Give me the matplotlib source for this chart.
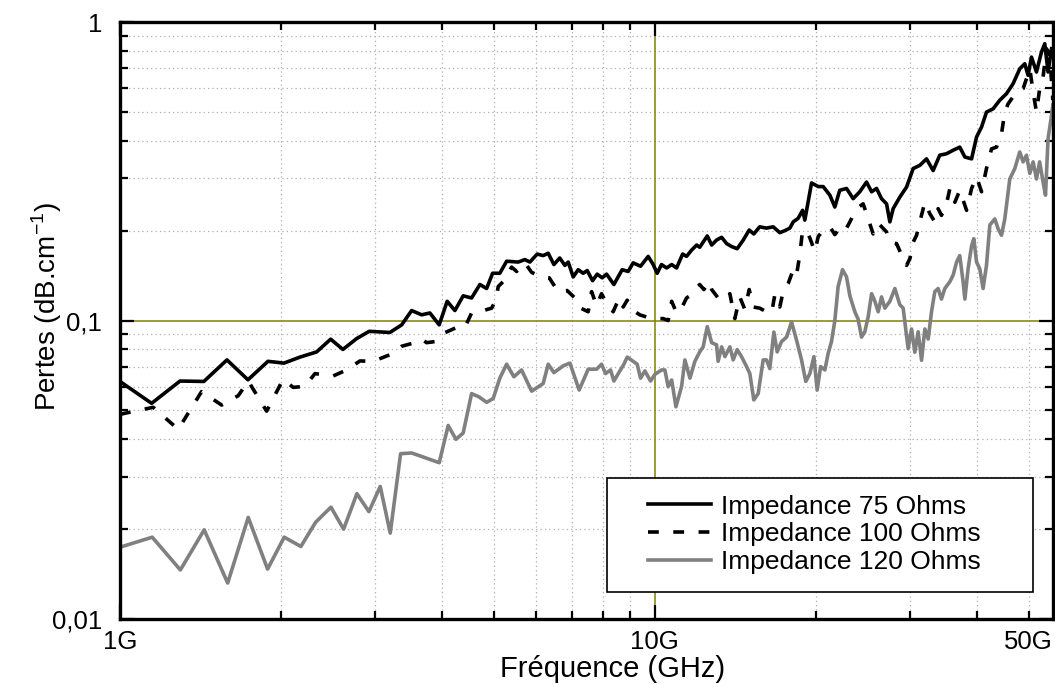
import numpy as np
import matplotlib
matplotlib.use('Agg')
import matplotlib.pyplot as plt
from matplotlib.ticker import FixedLocator, FuncFormatter, NullFormatter
from matplotlib.patches import Rectangle

plt.rcParams['font.family'] = ['Liberation Sans', 'DejaVu Sans']

# données (fréquence en GHz, pertes en dB/cm)
freq_75 = [1.00, 1.146, 1.295, 1.435, 1.585, 1.735, 1.891, 2.026, 2.170, 2.332,
           2.477, 2.611, 2.770, 2.924, 3.197, 3.362, 3.510, 3.664, 3.797, 3.952,
           4.090, 4.228, 4.382, 4.543, 4.709, 4.847, 4.973, 5.13, 5.283, 5.553,
           5.715, 5.839, 6.026, 6.183, 6.318, 6.475, 6.64, 6.789, 6.886, 7.036,
           7.189, 7.345, 7.473, 7.648, 7.801, 7.971, 8.123, 8.382, 8.687, 8.914,
           9.108, 9.403, 9.716, 9.928, 10.10, 10.29, 10.52, 10.75, 10.98, 11.27,
           11.46, 11.71, 11.97, 12.13, 12.53, 12.77, 13.04, 13.33, 13.62, 13.91,
           14.25, 14.63, 15.01, 15.31, 15.70, 16.17, 16.64, 17.12, 17.50, 17.88,
           18.14, 18.53, 18.89, 19.07, 19.63, 20.20, 20.64, 21.24, 21.70, 22.16,
           22.82, 23.48, 24.16, 24.87, 25.42, 25.97, 26.53, 27.11, 27.50, 27.89,
           28.70, 29.55, 30.40, 31.28, 32.20, 33.13, 34.09, 35.09, 36.11, 37.15,
           37.98, 39.09, 39.94, 40.81, 41.68, 42.89, 44.13, 45.42, 46.73, 48.1,
           49.15, 49.85, 50.59, 51.69, 52.81, 53.57, 54.33, 55.15]
loss_75 = [0.0625, 0.0528, 0.0627, 0.0625, 0.0738, 0.0633, 0.073, 0.072, 0.0754, 0.0785,
           0.0866, 0.080, 0.087, 0.092, 0.0912, 0.0967, 0.108, 0.1045, 0.106, 0.0967,
           0.116, 0.108, 0.121, 0.119, 0.132, 0.128, 0.144, 0.144, 0.158, 0.157,
           0.160, 0.157, 0.167, 0.165, 0.168, 0.154, 0.162, 0.153, 0.157, 0.140,
           0.148, 0.144, 0.147, 0.136, 0.143, 0.139, 0.143, 0.132, 0.148, 0.146,
           0.156, 0.152, 0.164, 0.154, 0.144, 0.154, 0.150, 0.154, 0.150, 0.167,
           0.164, 0.172, 0.179, 0.176, 0.192, 0.179, 0.186, 0.190, 0.181, 0.177,
           0.174, 0.186, 0.201, 0.195, 0.206, 0.204, 0.206, 0.197, 0.200, 0.204,
           0.214, 0.220, 0.234, 0.217, 0.289, 0.281, 0.281, 0.263, 0.240, 0.273,
           0.277, 0.256, 0.270, 0.291, 0.270, 0.277, 0.256, 0.246, 0.214, 0.237,
           0.259, 0.280, 0.323, 0.331, 0.348, 0.318, 0.358, 0.362, 0.372, 0.381,
           0.353, 0.348, 0.412, 0.445, 0.499, 0.512, 0.547, 0.575, 0.621, 0.697,
           0.725, 0.663, 0.763, 0.680, 0.793, 0.846, 0.680, 0.814]

freq_100 = [1.00, 1.154, 1.285, 1.421, 1.549, 1.664, 1.737, 1.880, 2.019, 2.108,
            2.217, 2.315, 2.504, 2.653, 2.809, 2.975, 3.242, 3.362, 3.560, 3.664,
            3.744, 3.880, 3.993, 4.260, 4.414, 4.543, 4.695, 4.952, 5.045, 5.095,
            5.205, 5.397, 5.515, 5.715, 5.883, 6.141, 6.346, 6.596, 6.856, 7.088,
            7.189, 7.506, 7.616, 7.781, 7.950, 8.123, 8.357, 8.576, 8.726, 8.877,
            9.047, 9.37, 9.859, 10.07, 10.36, 10.59, 10.75, 10.98, 11.22, 11.46,
            11.79, 11.93, 12.13, 12.35, 12.63, 12.77, 13.13, 13.42, 13.81, 14.11,
            14.41, 14.73, 15.01, 15.27, 15.70, 16.17, 16.53, 16.76, 17.12, 17.37,
            17.75, 18.14, 18.40, 18.66, 18.89, 19.21, 19.49, 19.91, 20.20, 20.64,
            21.24, 21.70, 22.16, 22.65, 23.15, 23.82, 24.51, 24.87, 25.59, 26.15,
            27.11, 27.50, 28.30, 28.92, 29.55, 29.97, 30.40, 30.85, 31.28, 31.97,
            32.66, 33.37, 33.85, 34.34, 35.09, 35.61, 36.38, 37.15, 38.26, 39.09,
            39.94, 40.81, 41.68, 42.60, 43.52, 44.47, 45.10, 45.75, 46.73, 47.44,
            48.80, 50.23, 50.95, 51.69, 52.4, 53.18, 53.96, 54.73, 55.46]
loss_100 = [0.0485, 0.0512, 0.0432, 0.0578, 0.0521, 0.0560, 0.0627, 0.0497, 0.0636, 0.0597,
            0.0602, 0.0664, 0.0652, 0.0683, 0.0732, 0.073, 0.0776, 0.082, 0.0843, 0.0866,
            0.0843, 0.085, 0.090, 0.0948, 0.0948, 0.106, 0.107, 0.110, 0.117, 0.130,
            0.135, 0.151, 0.146, 0.156, 0.145, 0.140, 0.139, 0.125, 0.126, 0.119,
            0.111, 0.107, 0.125, 0.112, 0.123, 0.114, 0.107, 0.119, 0.111, 0.117,
            0.109, 0.1045, 0.1015, 0.1015, 0.1015, 0.100, 0.116, 0.106, 0.110, 0.119,
            0.123, 0.128, 0.132, 0.127, 0.135, 0.127, 0.119, 0.117, 0.123, 0.1015,
            0.120, 0.109, 0.127, 0.111, 0.110, 0.107, 0.106, 0.122, 0.111, 0.125,
            0.133, 0.148, 0.142, 0.166, 0.201, 0.199, 0.189, 0.170, 0.191, 0.201,
            0.206, 0.194, 0.204, 0.199, 0.214, 0.237, 0.246, 0.228, 0.195, 0.212,
            0.198, 0.183, 0.181, 0.166, 0.153, 0.161, 0.183, 0.193, 0.214, 0.249,
            0.228, 0.214, 0.237, 0.225, 0.246, 0.277, 0.249, 0.273, 0.234, 0.277,
            0.303, 0.270, 0.323, 0.376, 0.381, 0.423, 0.499, 0.532, 0.561, 0.583,
            0.598, 0.697, 0.583, 0.499, 0.598, 0.654, 0.814, 0.774, 0.548]

freq_120 = [1.00, 1.149, 1.297, 1.437, 1.590, 1.737, 1.888, 2.028, 2.179, 2.322,
            2.480, 2.619, 2.773, 2.920, 3.066, 3.201, 3.347, 3.510, 3.952, 4.108,
            4.247, 4.382, 4.543, 4.689, 4.847, 4.986, 5.13, 5.283, 5.451, 5.634,
            5.883, 6.183, 6.318, 6.475, 6.740, 6.937, 7.219, 7.506, 7.781, 7.950,
            8.088, 8.264, 8.382, 8.576, 8.752, 8.877, 9.108, 9.267, 9.403, 9.579,
            9.817, 10.0, 10.29, 10.44, 10.59, 10.75, 10.95, 11.22, 11.38, 11.63,
            11.88, 12.13, 12.31, 12.53, 12.77, 13.04, 13.13, 13.33, 13.52, 13.81,
            14.01, 14.25, 14.52, 14.84, 15.05, 15.31, 15.60, 15.94, 16.17, 16.40,
            16.69, 16.93, 17.25, 17.63, 18.01, 18.40, 18.80, 19.15, 19.49, 19.83,
            20.11, 20.41, 20.79, 21.08, 21.39, 21.70, 22.01, 22.43, 22.82, 23.15,
            23.65, 23.99, 24.34, 24.69, 25.05, 25.42, 25.78, 26.15, 26.53, 26.91,
            27.50, 28.10, 28.70, 29.12, 29.75, 30.19, 30.62, 31.06, 31.52, 31.97,
            32.43, 32.90, 33.37, 33.85, 34.34, 34.84, 35.61, 36.11, 36.65, 37.15,
            37.69, 37.98, 38.51, 39.09, 39.47, 39.94, 40.49, 41.08, 41.68, 42.29,
            43.21, 43.82, 44.47, 45.10, 46.08, 47.09, 48.1, 48.80, 49.51, 50.23,
            50.95, 51.69, 52.4, 53.18, 53.74, 54.33, 55.15, 55.46]
loss_120 = [0.0174, 0.0188, 0.0146, 0.0199, 0.0132, 0.0219, 0.0147, 0.0188, 0.0175, 0.0211,
            0.0237, 0.0200, 0.0263, 0.0229, 0.0278, 0.0194, 0.0358, 0.0360, 0.0334, 0.0445,
            0.0400, 0.0420, 0.0569, 0.0555, 0.0532, 0.0548, 0.0641, 0.0714, 0.0648, 0.0683,
            0.0580, 0.0615, 0.0714, 0.0669, 0.0705, 0.0720, 0.0585, 0.0687, 0.0687, 0.0714,
            0.0664, 0.0683, 0.0627, 0.0672, 0.0714, 0.0754, 0.0730, 0.0714, 0.0641, 0.0678,
            0.0627, 0.066, 0.0683, 0.0683, 0.060, 0.0632, 0.0514, 0.0602, 0.0738, 0.0641,
            0.073, 0.0785, 0.0816, 0.0954, 0.0843, 0.0829, 0.073, 0.0816, 0.0757, 0.0816,
            0.0738, 0.0799, 0.0757, 0.0701, 0.0664, 0.0542, 0.0569, 0.0738, 0.0738, 0.0690,
            0.0915, 0.0785, 0.085, 0.088, 0.0988, 0.0861, 0.0738, 0.0625, 0.0664, 0.0757,
            0.0585, 0.0701, 0.0683, 0.0775, 0.085, 0.100, 0.130, 0.148, 0.140, 0.121,
            0.107, 0.101, 0.088, 0.0917, 0.103, 0.123, 0.116, 0.107, 0.120, 0.110,
            0.116, 0.128, 0.113, 0.110, 0.0805, 0.0937, 0.0783, 0.0917, 0.0736, 0.0937,
            0.0867, 0.107, 0.125, 0.128, 0.118, 0.128, 0.135, 0.142, 0.157, 0.165,
            0.135, 0.118, 0.149, 0.178, 0.188, 0.157, 0.149, 0.128, 0.153, 0.209,
            0.219, 0.203, 0.193, 0.219, 0.298, 0.323, 0.367, 0.340, 0.358, 0.311,
            0.340, 0.298, 0.340, 0.291, 0.263, 0.406, 0.487, 0.527]

labels = ['Impedance 75 Ohms', 'Impedance 100 Ohms', 'Impedance 120 Ohms']

x_major = [1, 10]
x_minor = [2, 3, 4, 5, 6, 7, 8, 9, 20, 30, 40, 50]
y_major = [0.01, 0.1, 1]
y_minor = [0.02, 0.03, 0.04, 0.05, 0.06, 0.07, 0.08, 0.09,
           0.2, 0.3, 0.4, 0.5, 0.6, 0.7, 0.8, 0.9]

fig = plt.figure(figsize=(10.55, 6.84), dpi=100)
ax = fig.add_axes([0.1137, 0.095, 0.8844, 0.8728])
ax.set_xscale('log')
ax.set_yscale('log')
ax.set_xlim(1, 55.5)
ax.set_ylim(0.01, 1)

# grille
for v in x_minor:
    ax.axvline(v, color='#b0b0b0', lw=0.9, ls=(0, (1, 2.5)), zorder=0)
for v in y_minor:
    ax.axhline(v, color='#b0b0b0', lw=0.9, ls=(0, (1, 2.5)), zorder=0)
ax.axvline(10, color='#808000', lw=1.1, zorder=0.5)
ax.axhline(0.1, color='#808000', lw=1.1, zorder=0.5)

ax.plot(freq_75, loss_75, color='black', lw=2.6, label=labels[0])
ax.plot(freq_100, loss_100, color='black', lw=2.6, dashes=(3, 4), label=labels[1])
ax.plot(freq_120, loss_120, color='#808080', lw=2.6, label=labels[2])

# axes et graduations
for s in ax.spines.values():
    s.set_linewidth(2.4)
ax.xaxis.set_major_locator(FixedLocator(x_major))
ax.xaxis.set_minor_locator(FixedLocator(x_minor))
ax.yaxis.set_major_locator(FixedLocator(y_major))
ax.yaxis.set_minor_locator(FixedLocator(y_minor))
ax.xaxis.set_major_formatter(FuncFormatter(lambda v, p: '%dG' % round(v)))
ax.xaxis.set_minor_formatter(FuncFormatter(lambda v, p: '50G' if abs(v - 50) < 1e-6 else ''))
ax.yaxis.set_major_formatter(FuncFormatter(lambda v, p: {0.01: '0,01', 0.1: '0,1', 1: '1'}.get(round(v, 2), '')))
ax.yaxis.set_minor_formatter(NullFormatter())
ax.tick_params(which='both', direction='in', top=True, right=True, width=1.6, labelsize=18.5)
ax.tick_params(which='major', length=10)
ax.tick_params(which='minor', length=5.5)
ax.tick_params(axis='x', which='both', pad=8)
ax.tick_params(axis='y', which='both', pad=13)

ax.set_xlabel('Fréquence (GHz)', fontsize=21)
ax.xaxis.set_label_coords(0.528, -0.06)
ax.set_ylabel('Pertes (dB.cm$^{\\mathregular{-1}}$)', fontsize=20)
ax.yaxis.set_label_coords(-0.06, 0.524)

# légende
ax.add_patch(Rectangle((0.522, 0.0452), 0.4566, 0.191, transform=ax.transAxes,
                       fill=True, facecolor='white', edgecolor='black', lw=1.2, zorder=3))
leg = ax.legend(loc='center left', bbox_to_anchor=(0.566, 0.142), frameon=False,
                fontsize=19, handlelength=2.4, handletextpad=0.35, labelspacing=0.14,
                borderpad=0, borderaxespad=0)
leg.set_zorder(4)

fig.savefig('out.png', dpi=100)
